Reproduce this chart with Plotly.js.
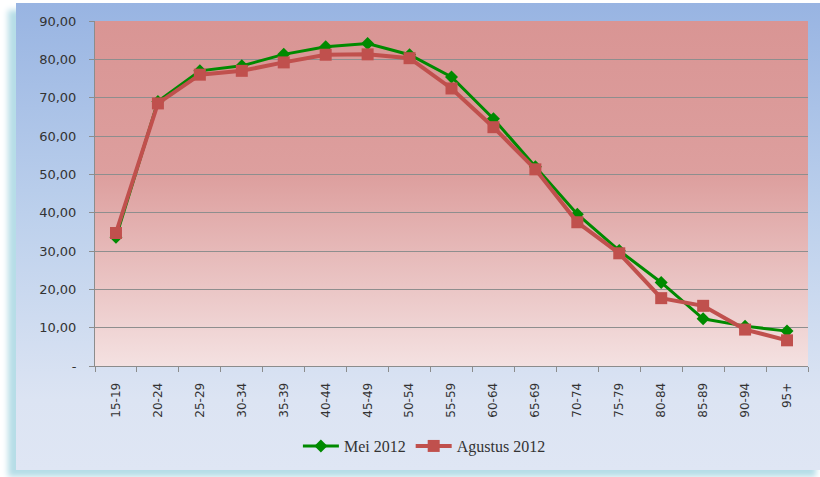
<!DOCTYPE html>
<html>
<head>
<meta charset="utf-8">
<script src="https://cdn.plot.ly/plotly-3.0.1.min.js"></script>
<style>
  html, body { margin: 0; padding: 0; background: #ffffff; }
  #wrap { position: relative; width: 820px; height: 477px; overflow: hidden; background: #ffffff; }
  #frame {
    position: absolute; left: 16px; top: 3px; width: 808px; height: 467px;
    background: linear-gradient(to bottom, #98b4e2 0%, #bcd0ec 45%, #dce4f3 85%, #dfe6f4 100%);
    box-shadow: -8px 7px 6px #b6dde7;
  }
  #chart { position: absolute; left: 0; top: 0; width: 820px; height: 477px; }
</style>
</head>
<body>
<div id="wrap">
  <div id="frame"></div>
  <div id="chart"></div>
</div>
<script>
const categories = ["15-19","20-24","25-29","30-34","35-39","40-44","45-49","50-54","55-59","60-64","65-69","70-74","75-79","80-84","85-89","90-94","95+"];
const mei2012 = [33.6, 69.0, 77.0, 78.3, 81.3, 83.3, 84.1, 81.2, 75.4, 64.5, 52.0, 39.6, 30.1, 21.8, 12.3, 10.4, 9.1];
const agustus2012 = [34.7, 68.5, 76.0, 77.0, 79.2, 81.2, 81.3, 80.3, 72.4, 62.3, 51.3, 37.5, 29.4, 17.7, 15.7, 9.5, 6.7];
const yTickVals = [0, 10, 20, 30, 40, 50, 60, 70, 80, 90];
const yTickText = ["-", "10,00", "20,00", "30,00", "40,00", "50,00", "60,00", "70,00", "80,00", "90,00"];
const seriesNames = ["Mei 2012", "Agustus 2012"];

const gradSvg = "<svg xmlns='http://www.w3.org/2000/svg' width='100' height='100' preserveAspectRatio='none'>" +
  "<defs><linearGradient id='g' x1='0' y1='0' x2='0' y2='1'>" +
  "<stop offset='0' stop-color='#d99594'/><stop offset='0.45' stop-color='#dd9f9e'/><stop offset='1' stop-color='#f4e1e1'/>" +
  "</linearGradient></defs><rect width='100' height='100' fill='url(#g)'/></svg>";
const gradSrc = "data:image/svg+xml;base64," + btoa(gradSvg);

const traces = [
  {
    type: "scatter", mode: "lines+markers", name: seriesNames[0],
    x: categories, y: mei2012,
    line: { color: "#008a00", width: 3 },
    marker: { symbol: "diamond", size: 10, color: "#008a00" }
  },
  {
    type: "scatter", mode: "lines+markers", name: seriesNames[1],
    x: categories, y: agustus2012,
    line: { color: "#c0504d", width: 4 },
    marker: { symbol: "square", size: 12, color: "#c0504d" }
  }
];

const layout = {
  width: 820, height: 477,
  margin: { l: 95, r: 12, t: 21, b: 111 },
  paper_bgcolor: "rgba(0,0,0,0)",
  plot_bgcolor: "rgba(0,0,0,0)",
  showlegend: true,
  legend: {
    orientation: "h", x: 0.462, xanchor: "center", y: -0.232, yanchor: "middle",
    font: { family: "Liberation Serif, serif", size: 16, color: "#333333" },
    bgcolor: "rgba(0,0,0,0)", itemwidth: 36, tracegroupgap: 0
  },
  xaxis: {
    type: "category", range: [-0.5, 16.5],
    tickson: "boundaries", ticks: "outside", ticklen: 5, tickcolor: "#8c8c8c",
    showline: true, linecolor: "#8c8c8c", linewidth: 1,
    showgrid: false, zeroline: false,
    tickangle: -90, ticklabelstandoff: 11,
    tickfont: { family: "DejaVu Sans, sans-serif", size: 12, color: "#333333" }
  },
  yaxis: {
    range: [0, 90], tickvals: yTickVals, ticktext: yTickText,
    ticks: "outside", ticklen: 5, tickcolor: "#8c8c8c",
    showline: true, linecolor: "#8c8c8c", linewidth: 1,
    showgrid: true, gridcolor: "#8e8e8e", gridwidth: 1, zeroline: false,
    ticklabelstandoff: 10,
    tickfont: { family: "DejaVu Sans, sans-serif", size: 13, color: "#333333" }
  },
  images: [{
    source: gradSrc, xref: "paper", yref: "paper", x: 0, y: 1, sizex: 1, sizey: 1,
    xanchor: "left", yanchor: "top", sizing: "stretch", layer: "below"
  }]
};

Plotly.newPlot("chart", traces, layout, { displayModeBar: false, staticPlot: true });
</script>
</body>
</html>
